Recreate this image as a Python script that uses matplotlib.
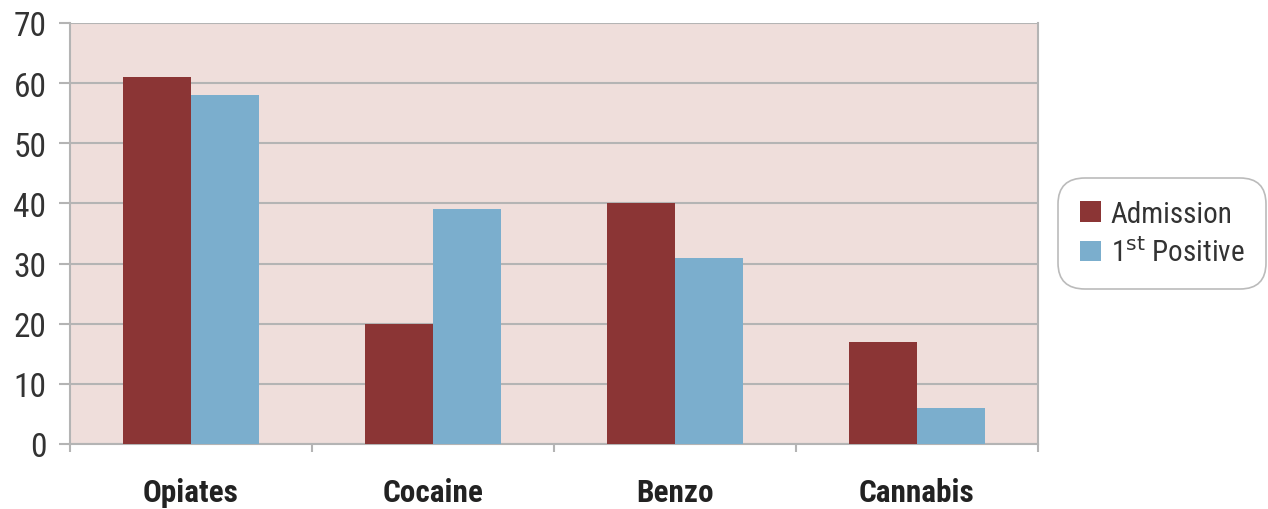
import matplotlib
matplotlib.use("Agg")
import matplotlib.pyplot as plt
import numpy as np
from matplotlib import font_manager
from matplotlib.font_manager import FontProperties

categories = ["Opiates", "Cocaine", "Benzo", "Cannabis"]
admission = [61, 20, 40, 17]
first_positive = [58, 39, 31, 6]
series_labels = ["Admission", "1$^{\\mathrm{st}}$ Positive"]
y_ticks = [0, 10, 20, 30, 40, 50, 60, 70]


def find_narrow(bold=False):
    """Pick a condensed sans face from whatever is installed."""
    cands = []
    for f in font_manager.fontManager.ttflist:
        fn = f.fname.lower()
        narrow = ("narrow" in fn or "condensed" in fn or "cond" in fn
                  or f.stretch in ("condensed", "semi-condensed", "extra-condensed", 600, 500))
        if not narrow or "mono" in fn or "serif" in fn and "sans" not in fn:
            continue
        is_bold = ("bold" in fn) or (isinstance(f.weight, int) and f.weight >= 600) or f.weight == "bold"
        if "italic" in fn or "oblique" in fn or f.style != "normal":
            continue
        if is_bold != bold:
            continue
        cands.append(f.fname)
    prefs = ["liberationsansnarrow", "robotocondensed", "opensans_condensed",
             "opensanscondensed", "dejavusanscondensed", "notosans"]
    def rank(p):
        b = p.lower().replace("-", "").replace("_", "")
        for i, k in enumerate(prefs):
            if k.replace("_", "") in b:
                return i
        return len(prefs)
    cands.sort(key=rank)
    return cands[0] if cands else None


reg = find_narrow(False)
bld = find_narrow(True)
fp_reg = FontProperties(fname=reg) if reg else FontProperties(family="DejaVu Sans")
fp_bold = FontProperties(fname=bld) if bld else FontProperties(family="DejaVu Sans", weight="bold")
if reg:
    font_manager.fontManager.addfont(reg)
    fam = FontProperties(fname=reg).get_name()
    plt.rcParams["mathtext.fontset"] = "custom"
    plt.rcParams["mathtext.rm"] = fam

c_adm = "#8B3535"
c_pos = "#7BAECD"
bg = "#EFDEDB"
grid_c = "#B4B4B4"
text_c = "#333333"

fig = plt.figure(figsize=(12.68, 5.10), dpi=100)
ax = fig.add_axes([70 / 1268, 1 - 445 / 510, (1038 - 70) / 1268, (445 - 24) / 510])
ax.set_facecolor(bg)

x = np.arange(len(categories))
w = 0.28
ax.bar(x - w / 2, admission, w, color=c_adm, label=series_labels[0], zorder=3)
ax.bar(x + w / 2, first_positive, w, color=c_pos, label=series_labels[1], zorder=3)

ax.set_xlim(-0.5, len(categories) - 0.5)
ax.set_ylim(0, 70)
ax.set_yticks(y_ticks)
ax.yaxis.grid(True, color=grid_c, linewidth=1.5, zorder=1)
ax.set_axisbelow(True)

ax.set_xticks(x)
ax.set_xticklabels(categories)
for t in ax.get_xticklabels():
    t.set_fontproperties(fp_bold)
    t.set_fontsize(22.5)
    t.set_color("#222222")
ax.tick_params(axis="x", length=0, pad=24)
ax.set_xticks(np.arange(len(categories) + 1) - 0.5, minor=True)
ax.tick_params(axis="x", which="minor", length=6, width=1.5, color=grid_c)
ax.tick_params(axis="y", length=8, width=1.5, color=grid_c, labelcolor=text_c, pad=9)
for t in ax.get_yticklabels():
    t.set_fontproperties(fp_reg)
    t.set_fontsize(24)

for s in ["left", "bottom", "right"]:
    ax.spines[s].set_color(grid_c)
    ax.spines[s].set_linewidth(1.5)
ax.spines["top"].set_visible(False)

leg_fp = fp_reg.copy()
leg_fp.set_size(21)
leg = ax.legend(loc="center left", bbox_to_anchor=(1.021, 0.5), prop=leg_fp,
                frameon=True, fancybox=True, handlelength=0.7, handleheight=0.7,
                handletextpad=0.35, borderpad=0.75, labelspacing=0.35,
                borderaxespad=0)
frame = leg.get_frame()
frame.set_edgecolor("#AAAAAA")
frame.set_linewidth(1.2)
frame.set_boxstyle("round,pad=0,rounding_size=0.9")
for t in leg.get_texts():
    t.set_color(text_c)

fig.savefig("out.png", dpi=100, facecolor="white")
